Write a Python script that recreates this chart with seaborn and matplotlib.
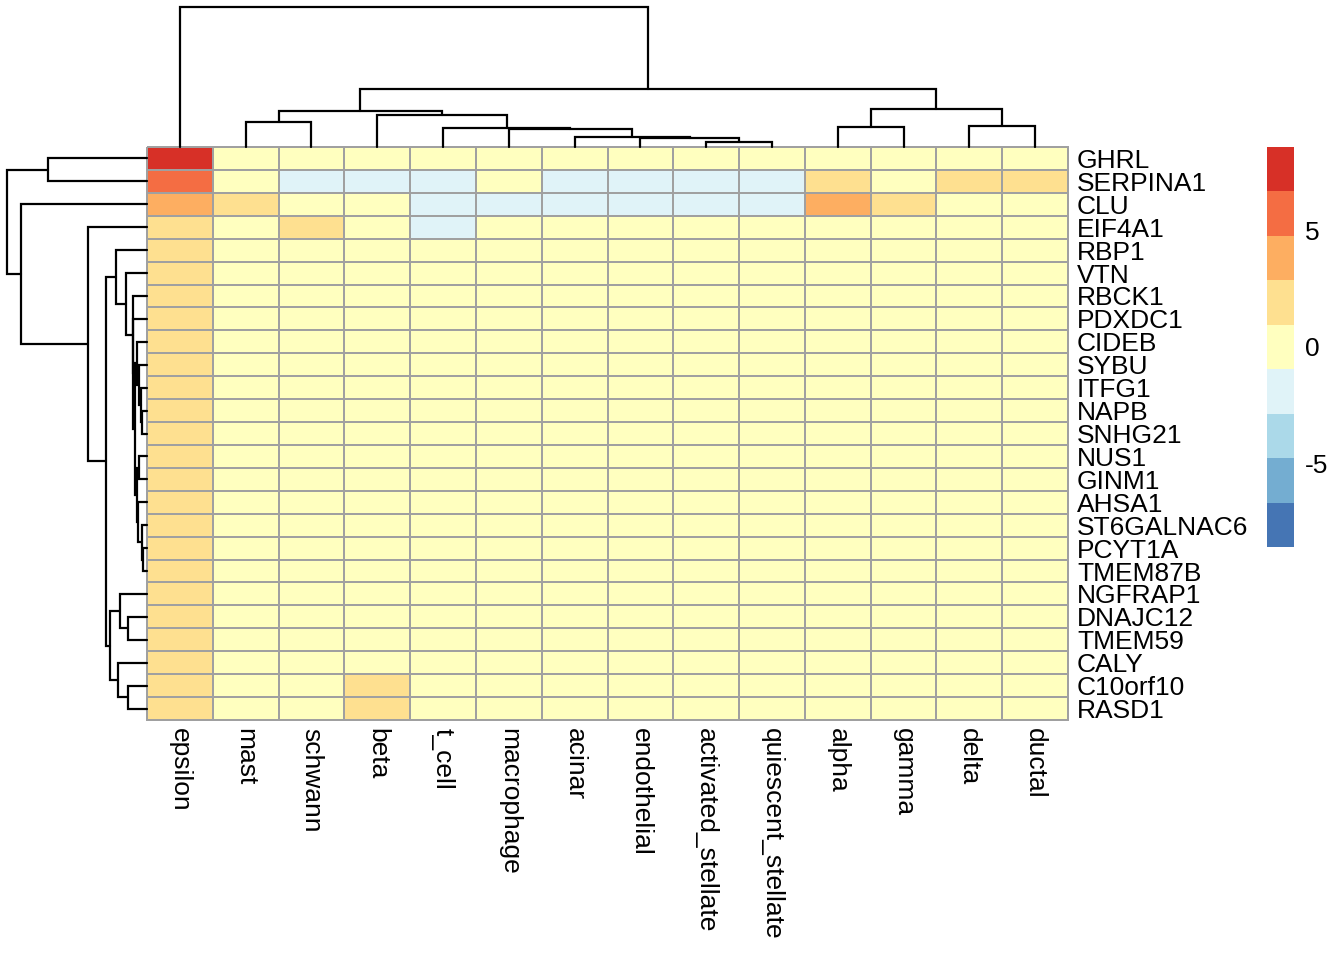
import numpy as np
import pandas as pd
import matplotlib
matplotlib.use("Agg")
import matplotlib.pyplot as plt
import seaborn as sns
from matplotlib.colors import ListedColormap

# ---------------- data ----------------
genes = ["GHRL", "SERPINA1", "CLU", "EIF4A1", "RBP1", "VTN", "RBCK1", "PDXDC1",
         "CIDEB", "SYBU", "ITFG1", "NAPB", "SNHG21", "NUS1", "GINM1", "AHSA1",
         "ST6GALNAC6", "PCYT1A", "TMEM87B", "NGFRAP1", "DNAJC12", "TMEM59",
         "CALY", "C10orf10", "RASD1"]

cell_types = ["epsilon", "mast", "schwann", "beta", "t_cell", "macrophage", "acinar",
              "endothelial", "activated_stellate", "quiescent_stellate", "alpha",
              "gamma", "delta", "ductal"]

# one list per cell type, values in gene order
epsilon = [7.6, 5.6, 3.8, 2.2, 2.0, 1.9, 1.8, 1.8, 1.7, 1.7, 1.7, 1.6, 1.6, 1.6,
           1.6, 1.6, 1.5, 1.5, 1.5, 1.7, 1.6, 1.6, 1.8, 1.7, 1.7]
mast = [0.2, 0.3, 1.3, 0.3, 0.1, 0.1, 0.1, 0.1, 0.0, 0.0, 0.1, 0.0, 0.0, 0.1,
        0.1, 0.1, 0.0, 0.0, 0.1, 0.0, 0.0, 0.0, 0.0, 0.1, 0.1]
schwann = [0.1, -1.3, 0.4, 1.1, 0.1, 0.2, 0.1, 0.1, 0.0, 0.0, 0.1, 0.0, 0.0, 0.1,
           0.1, 0.1, 0.0, 0.0, 0.1, 0.1, 0.0, 0.1, 0.0, 0.1, 0.1]
beta = [0.1, -1.2, 0.3, 0.2, 0.1, 0.1, 0.1, 0.1, 0.0, 0.1, 0.1, 0.0, 0.0, 0.1,
        0.1, 0.1, 0.0, 0.0, 0.1, 0.1, 0.1, 0.1, 0.3, 1.2, 1.2]
t_cell = [0.0, -1.4, -1.4, -1.1, -0.2, -0.2, -0.1, -0.1, -0.1, -0.1, -0.1, -0.1,
          -0.1, -0.1, -0.1, -0.1, -0.1, -0.1, -0.1, -0.1, -0.1, -0.1, -0.1, -0.1, -0.1]
macrophage = [0.1, -0.6, -1.3, 0.0, 0.0, 0.0, 0.0, 0.0, 0.0, 0.0, 0.0, 0.0, 0.0,
              0.0, 0.0, 0.0, 0.0, 0.0, 0.0, 0.0, 0.0, 0.0, 0.0, 0.0, 0.0]
acinar = [0.0, -1.5, -1.5, -0.2, -0.1, -0.1, -0.1, -0.1, -0.1, -0.1, -0.1, -0.1,
          -0.1, -0.1, -0.1, -0.1, -0.1, -0.1, -0.1, -0.1, -0.1, -0.1, -0.1, -0.1, -0.1]
endothelial = [0.1, -1.4, -1.5, -0.1, -0.1, 0.0, -0.1, -0.1, -0.1, -0.1, -0.1, -0.1,
               -0.1, -0.1, -0.1, -0.1, -0.1, -0.1, -0.1, -0.1, -0.1, -0.1, -0.1, -0.1, -0.1]
activated_stellate = [0.0, -1.3, -1.4, -0.1, -0.1, 0.0, -0.1, -0.1, -0.1, -0.1, -0.1,
                      -0.1, -0.1, -0.1, -0.1, -0.1, -0.1, -0.1, -0.1, -0.1, -0.1,
                      -0.1, -0.1, -0.1, -0.1]
quiescent_stellate = [0.0, -1.4, -1.5, -0.1, -0.1, 0.0, -0.1, -0.1, -0.1, -0.1, -0.1,
                      -0.1, -0.1, -0.1, -0.1, -0.1, -0.1, -0.1, -0.1, -0.1, -0.1,
                      -0.1, -0.1, -0.1, -0.1]
alpha = [0.3, 1.6, 3.5, 0.2, 0.1, 0.1, 0.1, 0.1, 0.1, 0.1, 0.1, 0.1, 0.1, 0.1,
         0.1, 0.1, 0.1, 0.1, 0.1, 0.1, 0.1, 0.1, 0.1, 0.1, 0.1]
gamma = [0.4, 0.6, 1.9, 0.1, 0.1, 0.1, 0.1, 0.1, 0.1, 0.1, 0.1, 0.1, 0.1, 0.1,
         0.1, 0.1, 0.1, 0.1, 0.1, 0.1, 0.1, 0.1, 0.1, 0.1, 0.1]
delta = [0.2, 1.5, 0.6, 0.1, 0.1, 0.1, 0.1, 0.1, 0.1, 0.1, 0.1, 0.1, 0.1, 0.1,
         0.1, 0.1, 0.1, 0.1, 0.1, 0.1, 0.1, 0.1, 0.2, 0.1, 0.1]
ductal = [0.1, 1.8, 0.5, 0.1, 0.1, 0.2, 0.1, 0.1, 0.1, 0.1, 0.1, 0.1, 0.1, 0.1,
          0.1, 0.1, 0.1, 0.1, 0.1, 0.1, 0.1, 0.1, 0.1, 0.1, 0.1]

# colour scale (9 discrete bins, symmetric range)
palette = ["#4575B4", "#74ADD1", "#ABD9E9", "#E0F3F8", "#FFFFBF",
           "#FEE090", "#FDAE61", "#F46D43", "#D73027"]
scale_limit = 8.55
legend_ticks = [-5, 0, 5]

# dendrogram merges: (node, left child, right child, merge height)
col_merges = [
    ("cW", "activated_stellate", "quiescent_stellate", 4.7),
    ("cZ", "endothelial", "cW", 9.3),
    ("cY", "acinar", "cZ", 10.3),
    ("cX", "macrophage", "cY", 17.7),
    ("cT", "t_cell", "cX", 19.3),
    ("cB", "beta", "cT", 32.0),
    ("cMS", "mast", "schwann", 24.7),
    ("cL", "cMS", "cB", 35.7),
    ("cAG", "alpha", "gamma", 20.3),
    ("cDD", "delta", "ductal", 21.3),
    ("cR", "cAG", "cDD", 38.3),
    ("cM", "cL", "cR", 57.7),
    ("cRoot", "epsilon", "cM", 140.0),
]
row_merges = [
    ("r1", "GHRL", "SERPINA1", 99.3),
    ("n1", "PCYT1A", "TMEM87B", 4.3),
    ("n2", "ST6GALNAC6", "n1", 5.3),
    ("n3", "AHSA1", "n2", 8.7),
    ("ng", "NUS1", "GINM1", 7.7),
    ("n4", "ng", "n3", 10.3),
    ("s", "NAPB", "SNHG21", 5.0),
    ("r", "ITFG1", "s", 6.5),
    ("q", "SYBU", "r", 8.0),
    ("p", "CIDEB", "q", 10.4),
    ("a5", "p", "n4", 12.0),
    ("a4", "PDXDC1", "a5", 13.7),
    ("a3", "RBCK1", "a4", 14.3),
    ("a2", "VTN", "a3", 21.0),
    ("a", "RBP1", "a2", 31.3),
    ("dt", "DNAJC12", "TMEM59", 19.3),
    ("b1", "NGFRAP1", "dt", 27.0),
    ("cr", "C10orf10", "RASD1", 18.7),
    ("b2", "CALY", "cr", 28.7),
    ("b", "b1", "b2", 37.0),
    ("rest2", "a", "b", 41.3),
    ("rest", "EIF4A1", "rest2", 58.7),
    ("clu", "CLU", "rest", 126.0),
    ("root", "r1", "clu", 140.3),
]

df = pd.DataFrame({
    "epsilon": epsilon, "mast": mast, "schwann": schwann, "beta": beta,
    "t_cell": t_cell, "macrophage": macrophage, "acinar": acinar,
    "endothelial": endothelial, "activated_stellate": activated_stellate,
    "quiescent_stellate": quiescent_stellate, "alpha": alpha, "gamma": gamma,
    "delta": delta, "ductal": ductal,
}, index=genes)[cell_types]

# ---------------- figure ----------------
sns.set_style("white")
plt.rcParams["font.family"] = ["Liberation Sans", "DejaVu Sans"]
plt.rcParams["axes.unicode_minus"] = False
plt.rcParams["text.color"] = "black"
plt.rcParams["xtick.color"] = "black"
plt.rcParams["ytick.color"] = "black"
plt.rcParams["xtick.labelcolor"] = "black"
plt.rcParams["ytick.labelcolor"] = "black"

FS = 19

W, H = 1344, 960
fig = plt.figure(figsize=(W / 100, H / 100), dpi=100)


def rect(x0, y0, x1, y1):
    return [x0 / W, 1 - y1 / H, (x1 - x0) / W, (y1 - y0) / H]


ax_hm = fig.add_axes(rect(147, 147, 1068, 720))
ax_cd = fig.add_axes(rect(147, 7, 1068, 147))
ax_rd = fig.add_axes(rect(7, 147, 147, 720))
ax_cb = fig.add_axes(rect(1267, 147, 1294, 547))

cmap = ListedColormap(palette)
sns.heatmap(df, ax=ax_hm, cmap=cmap, vmin=-scale_limit, vmax=scale_limit,
            linewidths=1.3, linecolor="#A0A0A0", cbar_ax=ax_cb,
            cbar_kws={"ticks": legend_ticks},
            xticklabels=True, yticklabels=True)
ax_hm.collections[0].set_clip_on(False)
ax_hm.set_xlabel("")
ax_hm.set_ylabel("")
ax_hm.yaxis.tick_right()
ax_hm.set_yticks(np.arange(len(genes)) + 0.5)
ax_hm.set_yticklabels(genes, rotation=0, fontsize=FS, va="center_baseline",
                      color="black")
ax_hm.set_xticklabels(cell_types, rotation=270, fontsize=FS, color="black")
ax_hm.tick_params(axis="y", length=0, pad=6.5)
ax_hm.tick_params(axis="x", length=0, pad=6)

cb = ax_hm.collections[0].colorbar
cb.outline.set_visible(False)
ax_cb.tick_params(length=0, labelsize=FS, pad=8, labelcolor="black")


def draw_dendro(ax, merges, leaves, orient):
    pos = {name: i + 0.5 for i, name in enumerate(leaves)}
    hgt = {name: 0.0 for name in leaves}
    for node, left, right, h in merges:
        pl, pr = pos[left], pos[right]
        hl, hr = hgt[left], hgt[right]
        if orient == "top":
            ax.plot([pl, pl, pr, pr], [hl, h, h, hr], color="black", lw=1.6,
                    clip_on=False, solid_joinstyle="miter")
        else:
            ax.plot([hl, h, h, hr], [pl, pl, pr, pr], color="black", lw=1.6,
                    clip_on=False, solid_joinstyle="miter")
        pos[node] = (pl + pr) / 2
        hgt[node] = h


draw_dendro(ax_cd, col_merges, cell_types, "top")
ax_cd.set_xlim(0, len(cell_types))
ax_cd.set_ylim(0, 140.0)
ax_cd.axis("off")

draw_dendro(ax_rd, row_merges, genes, "left")
ax_rd.set_ylim(len(genes), 0)
ax_rd.set_xlim(140.3, 0)
ax_rd.axis("off")

fig.savefig("out.png", dpi=100, facecolor="white")
